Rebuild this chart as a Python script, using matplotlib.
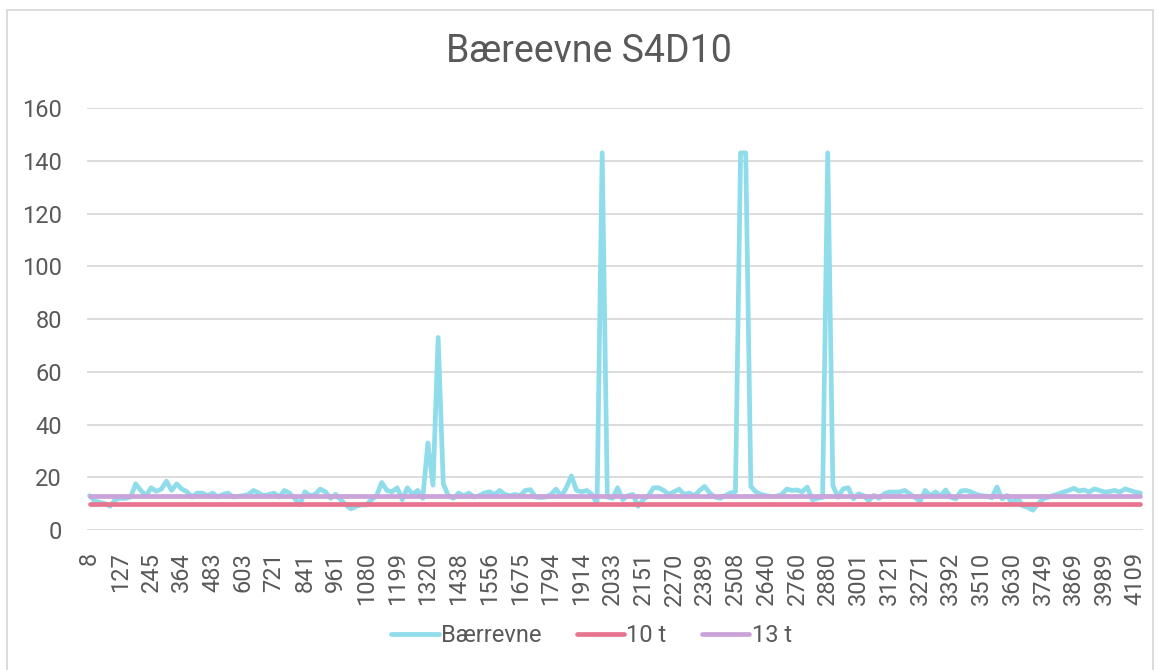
import matplotlib
matplotlib.use("Agg")
import matplotlib.pyplot as plt
from matplotlib.patches import Rectangle

plt.rcParams['font.family'] = ['Roboto', 'DejaVu Sans']

title = "Bæreevne S4D10"
series_name = "Bærrevne"
limit_names = ["10 t", "13 t"]
limit_values = [10, 13]

# tick labels, one every 6 samples
tick_labels = ['8', '127', '245', '364', '483', '603', '721', '841', '961', '1080',
               '1199', '1320', '1438', '1556', '1675', '1794', '1914', '2033', '2151',
               '2270', '2389', '2508', '2640', '2760', '2880', '3001', '3121', '3271',
               '3392', '3510', '3630', '3749', '3869', '3989', '4109']
step = 6

# bearing capacity (6 samples per label interval)
capacity = [
    13, 11, 10.5, 10, 9, 11.5,
    12, 12, 12.5, 17.5, 15, 13,
    16, 14.7, 15.5, 18.5, 15, 17.5,
    15.5, 14.5, 12.5, 14, 14, 13,
    14, 12.5, 13.5, 14, 12.5, 12.8,
    13, 13.5, 15, 14, 13, 13.5,
    14, 12.5, 15, 14, 12, 9.5,
    14.5, 13, 13.5, 15.5, 14.5, 12,
    13.5, 11.5, 9.5, 8, 9, 9.5,
    9.5, 11.5, 13, 18, 15, 14.5,
    16, 11.5, 16, 13.5, 15, 12,
    33, 17, 73, 17.5, 13, 12,
    14, 13, 14, 12.5, 13, 14,
    14.5, 13.5, 15, 13.5, 13, 13.5,
    13, 15, 15.3, 12.5, 12.3, 12.5,
    13.5, 15.5, 12.8, 16, 20.5, 15,
    14.5, 15, 13.5, 10, 143, 12.5,
    12, 16, 11.5, 13, 13.5, 9,
    11.5, 13, 16, 16, 15, 13.5,
    14.5, 15.5, 13.5, 14, 13, 15,
    16.5, 14, 12.5, 12, 13, 14,
    14.5, 143, 143, 16.5, 14.4, 13.5,
    13, 12.7, 12.8, 13.5, 15.5, 15,
    15.2, 14.5, 16.3, 11.5, 12, 12.4,
    143, 16.9, 12.4, 15.6, 16, 11.8,
    13.7, 13, 11.1, 13.1, 12, 13.7,
    14.4, 14.4, 14.4, 15, 13.7, 12.4,
    10.9, 15, 13, 14.4, 13, 15.2,
    12.4, 11.8, 14.8, 15, 14.4, 13.5,
    13, 12.8, 12.2, 16.3, 11.8, 13.1,
    9.9, 12.4, 9.2, 8.6, 7.5, 9.9,
    11.8, 12.4, 13.1, 13.7, 14.4, 15,
    15.8, 14.8, 15.2, 14.4, 15.6, 15,
    14.4, 14.6, 15, 14.4, 15.6, 15,
    14.4, 14,
]

text_color = '#595959'
grid_color = '#D9D9D9'
colors = ['#8FDCEB', '#E8758F', '#C9A3DA']

n = len(capacity)
x = list(range(n))

fig = plt.figure(figsize=(11.6, 6.7), dpi=100)
ax = fig.add_axes([87 / 1160, 140 / 670, 1056 / 1160, 422 / 670])

ax.plot(x, capacity, color=colors[0], lw=3.4, solid_joinstyle='round',
        solid_capstyle='round', label=series_name, zorder=3)
for name, val, c in zip(limit_names, limit_values, colors[1:]):
    ax.plot(x, [val] * n, color=c, lw=3.4, solid_capstyle='round', label=name, zorder=3)

ax.set_xlim(-0.5, n - 0.5)
ax.set_ylim(0, 160)
ax.set_yticks(range(0, 161, 20))
ax.set_xticks(range(0, step * len(tick_labels), step))
ax.set_xticklabels(tick_labels, rotation=90)
ax.tick_params(axis='both', length=0, labelsize=17, colors=text_color)
ax.tick_params(axis='x', pad=16)
ax.tick_params(axis='y', pad=18)
ax.grid(axis='y', color=grid_color, lw=1.3)
ax.set_axisbelow(True)
for s in ax.spines.values():
    s.set_visible(False)

fig.text(0.508, 1 - 52 / 670, title, ha='center', va='center',
         fontsize=27, color=text_color)

leg = fig.legend(loc='center', bbox_to_anchor=(0.51, 1 - 636 / 670), ncol=3,
                 frameon=False, fontsize=17, handlelength=2.0,
                 handletextpad=0.1, columnspacing=1.5)
for t in leg.get_texts():
    t.set_color(text_color)

# chart area border
fig.patches.append(Rectangle((7 / 1160, -0.02), 1146 / 1160, 1.02 - 10 / 670,
                             transform=fig.transFigure, fill=False,
                             edgecolor=grid_color, lw=1.3))

fig.savefig('out.png', dpi=100)
